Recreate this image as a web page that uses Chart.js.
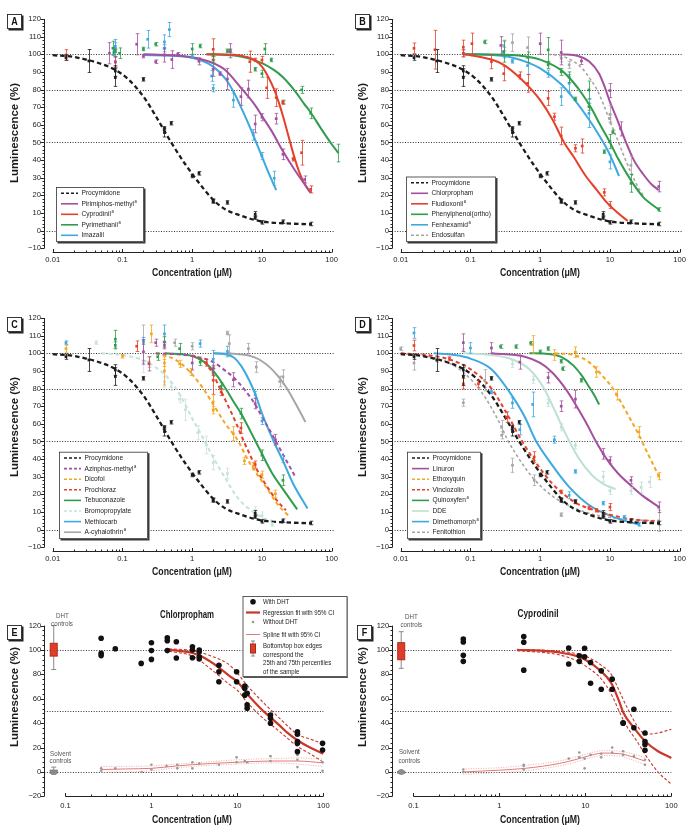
<!DOCTYPE html>
<html><head><meta charset="utf-8">
<script src="https://cdn.jsdelivr.net/npm/chart.js@4.4.0/dist/chart.umd.min.js"></script>
<style>
html,body{margin:0;padding:0;background:#fff;}
#wrap{position:relative;width:696px;height:831px;overflow:hidden;background:#fff;}
canvas{position:absolute;}
</style></head><body><div id="wrap">
<canvas id="cA" width="348" height="290" style="left:0;top:0"></canvas>
<canvas id="cB" width="348" height="290" style="left:348px;top:0"></canvas>
<canvas id="cC" width="348" height="282" style="left:0;top:299px"></canvas>
<canvas id="cD" width="348" height="282" style="left:348px;top:299px"></canvas>
<canvas id="cE" width="348" height="250" style="left:0;top:581px"></canvas>
<canvas id="cF" width="348" height="250" style="left:348px;top:581px"></canvas>
</div>
<script>
// ---------------- DATA ----------------
const xTickValsAD = [0.01, 0.1, 1, 10, 100];
const xTickValsEF = [0.1, 1, 10, 100];
const refLinesAD = [0, 50, 80, 100];
const refLinesEF = [0, 50, 100];

// Procymidone (reference compound, panels A-D): [conc, %, err]
const procPts = [[0.0155,98.1,1.5],[0.033,96.2,6.5],[0.079,90.5,3],[0.079,86.8,5],[0.2,85.8,1],[0.4,55.6,2.5],[0.4,58,1],[0.5,60.9,1],[1,31,1],[1.25,32.5,1],[2,17,1],[2,16.5,1],[3.2,16,1],[8,9.3,1.5],[8,7.4,1],[10,4.7,1],[20,5.1,1],[50,3.8,1]];
const procFit = [[0.01,99.5],[0.02,98.5],[0.03,97],[0.05,94.5],[0.08,91],[0.12,86],[0.2,76],[0.3,65],[0.5,50],[0.8,37.5],[1.2,28],[2,17.5],[3,12],[5,8.5],[8,6],[12,4.8],[20,4.2],[50,3.6]];

// Panel A
const A_pirimPts = [[0.065,100.6,6],[0.079,95.8,3],[0.16,105.7,6],[0.2,99,1],[0.3,95.8,1],[0.4,99.6,4],[0.51,97,5],[0.62,100,1],[1.25,96,2],[2,91.5,4],[2.5,89,1],[3.2,86,6],[3.5,102,4],[5,76,5],[6.4,80.3,5],[8,60.5,5],[10,64.3,2],[16,63.5,3],[20,43.3,3],[41,29,2]];
const A_pirimFit = [[0.2,100],[0.5,99.5],[1,98.3],[2,95],[3,91],[5,81],[8,71],[10,65],[14,56],[20,45],[30,34],[50,21.5]];
const A_cyproPts = [[0.0155,99.6,3],[0.079,95.5,3],[2,102.8,6],[6.7,95.8,6],[8,96.8,1],[10,96.8,2],[11.7,81,6],[16,75.4,5],[20,72.6,1],[28,40.5,1],[37,44.2,7],[50,23.4,2]];
const A_cyproFit = [[1.6,100],[4,99.7],[6,98.5],[8,96.5],[10,93],[12,88],[15,80],[18,71],[21,62],[25,51],[30,40],[36,31],[43,25],[50,21.5]];
const A_pyrimPts = [[0.073,103.4,4],[0.079,102,1],[0.091,100.6,3],[0.2,103,1],[0.3,105.7,1],[1,103,3],[1.3,104.7,1],[2,96.8,2],[2,99.6,1],[3.2,102,1],[3.5,102,1],[8,91.5,1],[10,89,2],[11,103,3],[13.6,96.8,1],[20,73,1],[37,79.8,2],[50,66.5,3],[125,44,5]];
const A_pyrimFit = [[1.6,100],[4,99.3],[6,98],[10,95],[15,91],[20,87],[30,79],[40,72],[50,67],[70,58],[100,49],[125,44]];
const A_imazPts = [[0.075,101,1],[0.079,103.4,5],[0.079,104.5,2],[0.23,108.5,5],[0.4,107,4],[0.4,103.4,2],[0.47,114,4],[1,98.7,1],[1.9,87.7,3],[2,80.7,2],[3.9,74,4],[7.5,54.3,3],[10,42.3,2],[15,29.7,4]];
const A_imazFit = [[0.2,99.6],[0.5,99.2],[1,98],[2,93],[3,86],[4,78],[5,70],[7,57],[10,42],[13,31],[16,23]];

// Panel B
const B_chlorPts = [[0.273,105,5],[1,106,6],[2,101,7],[3.9,96.2,2],[10,79.4,4],[14.2,57.7,4],[50,25,3]];
const B_chlorFit = [[2,100],[3.5,99],[5,96],[7,89],[8.5,81],[10,73],[13,62],[17,50],[22,40],[30,32],[40,26],[50,23]];
const B_fludPts = [[0.0155,103.4,3],[0.031,102.6,11],[0.079,104,4],[0.079,100.5,2],[0.105,106,6],[0.2,95.8,4],[0.3,89,4],[0.51,88,2],[0.66,83.5,5],[1.3,75,4],[1.6,64.6,2],[2,53.7,5],[3.2,46.7,2],[4,48,4],[8.3,21.7,2],[10,14.5,2]];
const B_fludFit = [[0.08,100],[0.1,99.5],[0.2,97],[0.3,94],[0.5,87],[0.75,80],[1,74],[1.5,63],[2.2,50],[3,42],[4.5,31],[6.5,23],[9,16],[13,10],[18,5.5]];
const B_phenPts = [[0.16,107,1],[0.3,101.5,6],[0.66,98.3,3],[1.3,102.5,7],[1.3,94,2],[2,90,2],[2.6,87,3],[3.2,74.7,1],[5,79.8,5],[5,70.3,2],[8.3,44.8,1],[10,50.5,4],[11,56,1],[20,26.8,5],[50,12,1]];
const B_phenFit = [[0.08,100],[0.3,99.7],[0.7,98.5],[1,97],[2,91],[3,84],[4,77.5],[5.5,69],[7,61],[10,50],[13,41],[20,28.5],[30,19],[50,12]];
const B_fenhPts = [[0.079,100.6,2],[0.3,101,3],[0.4,96,1],[0.66,93.6,5],[1.3,89,2],[2,76,5],[2.6,83.5,5],[5,66.5,8],[10,39,4]];
const B_fenhFit = [[0.08,100],[0.3,99],[0.6,96],[1,92],[2,83],[3,75],[5,63],[7,54],[10,43],[13.5,31]];
const B_endoPts = [[0.3,105,3],[0.4,106.6,5],[0.66,103.8,6],[2,97.7,2],[2.6,94,2],[10,66,5],[10,63.7,2],[20,37,5]];
const B_endoFit = [[1.3,100],[2,99],[3,96],[4,92],[5,87],[6.5,80],[8,72],[10,62],[13,51],[16,42],[20,33],[25,25],[30,20]];

// Panel C
const C_azinPts = [[0.2,100.8,7],[0.24,94,4],[0.3,106,2],[0.4,104.5,2],[1,94.5,4],[2,91.3,2],[3.9,85,4],[8,71.5,3],[15.6,51,3]];
const C_azinFit = [[0.3,100],[1,98.5],[2,95],[3,90],[4,86],[6,78],[8,71],[10,64],[14,54],[18,46],[24,37],[30,30]];
const C_dicoPts = [[0.0155,102.6,2],[0.1,98.3,1],[0.26,111,5],[0.24,95,3],[0.4,90,8],[0.4,94.5,2],[0.66,94,2],[0.95,89.4,2],[2,72.4,4],[2,67.7,2],[3.9,54.4,4],[5.6,39,2],[7.5,36,2],[10,31.2,2],[15.6,20.4,2]];
const C_dicoFit = [[0.3,100],[0.5,97.5],[0.7,94],[1,88],[1.5,79],[2,71],[3,60],[4.6,50],[6,41],[8,33],[12,23],[17,14],[24,8]];
const C_prochPts = [[0.16,104,3],[1.6,94.7,2],[2,84.7,8],[2.6,78,2],[5,57.6,3],[8,36.9,2]];
const C_prochFit = [[1,99],[1.5,95],[2,88],[2.5,80],[3.2,71],[4.2,61],[5.5,50],[7,41],[9,32],[12,24],[16,17],[22,11]];
const C_tebuPts = [[0.079,108,5],[0.079,104.5,2],[0.32,98,2],[0.4,106.4,3],[0.66,102.6,3],[1.3,95,2],[2,89.4,2],[2.6,81.3,2],[5,65.8,3],[10,42.2,3],[20,28,3]];
const C_tebuFit = [[0.4,100],[1,98.5],[1.5,95],[2,90],[2.8,82],[4,72],[5,66],[7,55],[10,43],[14,32],[20,23],[32,11.5]];
const C_bromPts = [[0.042,106,1],[0.2,95,6],[0.4,83.7,3],[0.5,81,2],[0.66,74,2],[0.8,68,6],[1.2,55,4],[1.6,48,5],[2,38,4],[3.2,31.8,3],[8,11,2],[10,8,2],[14,3,1]];
const C_bromFit = [[0.05,100],[0.1,99],[0.2,96],[0.3,92],[0.45,86],[0.7,75],[1,63],[1.3,55],[2,41],[3,29],[4.3,19],[6,13],[10,7],[14,5]];
const C_methPts = [[0.0155,106,1],[0.2,107,2],[0.4,111,5],[1.3,105.5,2],[2,96.6,5],[3.2,101,3],[8,76.5,2],[10,61.6,2],[20,40,2]];
const C_methFit = [[2,100],[3,99.5],[4,97.5],[5,93],[6.5,85],[8,77],[10,66],[13,55],[16,47],[20,39],[28,26],[45,12]];
const C_cyhaPts = [[0.2,106,10],[0.56,106,2],[1,104,2],[3.2,111.5,1],[3.4,105.5,5],[6.4,102.6,3],[8.3,92.2,3],[18,84,3],[20,86.6,4]];
const C_cyhaFit = [[2,100],[4,99.7],[6,99],[8,97.5],[10,95.5],[13,92],[17,87],[22,81],[28,74],[35,67],[42,61]];

// Panel D
const D_linuPts = [[0.079,106,5],[0.2,103,3],[0.51,95,4],[1.3,86.2,3],[2,70,3],[3.2,74,5],[8,43,3],[10,39.3,2],[20,28,2],[50,12.7,3]];
const D_linuFit = [[0.2,100],[0.6,98],[1,94.5],[1.5,89],[2.3,80],[3,73],[4.5,61],[6.3,50],[9,40],[13,32],[20,25],[30,19],[50,13]];
const D_ethoPts = [[0.78,105,5],[1.6,99,3],[3.2,100.6,3],[6.4,89.4,3],[12.5,76.5,3],[26,55.4,3],[50,30.3,2]];
const D_ethoFit = [[1.6,100],[3,99],[5,95],[7.5,88],[11,80],[16,69],[20,62],[25,55],[35,43],[50,30.5]];
const D_vincPts = [[0.0155,104.4,3],[0.05,97,1],[0.079,82.7,3],[0.13,82.7,2],[0.33,63.8,3],[0.82,41.2,3],[2,21.4,1],[3.2,15.7,1],[5,12.3,1],[6.4,11,1],[10,12.8,2]];
const D_vincFit = [[0.01,100],[0.03,98.5],[0.05,96.5],[0.1,91],[0.2,80],[0.33,66],[0.5,53],[0.8,40],[1.5,26],[3,16],[6,11],[10,8.5],[20,6],[50,4.5]];
const D_quinPts = [[0.27,103.8,1],[0.45,103.8,1],[0.73,105.7,1],[1,100.8,1],[1.3,102.7,1],[2,95.5,1],[2.1,91.3,1],[3.9,84.7,1]];
const D_quinFit = [[0.7,100],[1.2,99.8],[2,98],[3,93],[4,87],[5,81],[6,76],[7,71]];
const D_ddePts = [[0.079,101.7,1],[0.4,94,2],[0.8,85,2],[1.3,71.8,2],[2,58,2],[3.2,47.8,2],[8,30,3],[10,22,2],[20,22,2],[28,24,3],[37,27,3]];
const D_ddeFit = [[0.08,100],[0.2,99],[0.4,96.5],[0.7,91],[1.1,81],[1.6,68],[2.4,53],[3.5,41],[5.5,31],[8,26],[12,23]];
const D_dimePts = [[0.0155,111.5,3],[0.1,103,3],[0.2,78,1],[0.4,71.8,3],[0.51,56.7,3],[0.78,71,7],[1.6,51,2],[2.6,19.5,2],[3.2,33,1],[8,15,1],[16,7,1],[26,3,1]];
const D_dimeFit = [[0.03,100],[0.06,99],[0.1,97],[0.2,91],[0.35,79],[0.6,64],[0.85,51],[1.4,38],[2.5,25],[5,14],[10,8],[20,4],[26,3]];
const D_feniPts = [[0.01,102.6,1],[0.0155,94.5,4],[0.033,96,1],[0.079,72,2],[0.16,84.7,6],[0.28,58,4],[0.28,53.5,2],[0.4,36.5,4],[0.82,28,3],[2,8.5,1],[50,5,6]];
const D_feniFit = [[0.01,100],[0.04,96],[0.08,89],[0.15,77],[0.25,62],[0.35,50],[0.5,40],[0.8,29],[1.5,19],[3,12.5],[6,8.5],[15,6],[50,5]];

// Panel E (Chlorpropham)
const E_withDHT = [[0.26,109.6],[0.26,97.3],[0.26,95.4],[0.38,101],[0.76,89],[1,106],[1,99.5],[1,92.3],[1.53,110],[1.53,107.6],[1.53,99.5],[1.95,106.8],[1.95,93.4],[3,102.7],[3,100],[3,93.7],[3.6,100],[3.6,98.6],[3.6,94.5],[3.6,92.6],[6.1,87.4],[6.1,82.2],[6.1,74],[9.8,82.2],[9.8,74],[12.2,70.5],[12.2,68.6],[12.2,63],[13,64.5],[13,55],[13,52.2],[24.3,46.7],[24.3,44],[24.3,40],[50,33],[50,31],[50,25],[50,23.5],[50,16.7],[98,23.5],[98,18]];
const E_withoutDHT = [[0.26,3],[0.26,1],[0.38,3],[0.77,0],[1,6],[1,2],[1.5,5],[2,6],[2,3],[3,8],[3,3],[3.6,7],[6.1,6],[9.8,12],[9.8,8],[12.2,9],[13,8],[24.3,13],[24.3,9],[50,14],[50,10],[50,4],[98,8],[98,1]];
const E_regFit = [[1.6,100],[2,99.5],[3,97.5],[4,94],[6,86],[8,79],[10,74],[13,64],[16,57],[20,50],[24,45],[30,39],[40,31],[50,26],[70,20],[100,15]];
const E_regUp = [[1.6,101],[3,99.5],[5,95],[8,88],[10,81],[13,71],[20,57],[30,45],[50,31],[70,27],[100,23]];
const E_regLo = [[1.6,99],[3,95],[5,84],[8,72],[10,67],[13,57],[20,44],[30,34],[50,21],[70,15],[100,8]];
const E_spline = [[0.26,2],[0.5,2.5],[1,3],[2,5],[3,6],[5,7],[10,8],[25,9],[50,9],[100,7.5]];
const E_splineUp = [[0.26,4.5],[1,5],[2,6.5],[5,8.5],[10,10],[25,11],[50,11.5],[100,10.5]];
const E_splineLo = [[0.26,-0.5],[1,1],[2,3.5],[5,5.5],[10,6.5],[25,7.5],[50,6.5],[100,4.5]];
// box plots: [x, min, q1, median, q3, max]
const E_dhtBox = [0.073, 84, 95, 100, 105.5, 120];
const E_solventBox = [0.073, -2, -1, 0, 1.5, 4];

// Panel F (Cyprodinil)
const F_withDHT = [[0.38,109],[0.38,106.5],[0.38,95.6],[0.38,90.7],[1.92,111],[1.92,106.3],[1.92,83.5],[6.4,101.6],[6.4,88.5],[8.5,95.3],[8.5,90.7],[9.8,101.4],[9.8,94.5],[11.5,89.8],[11.5,72.8],[15.3,82.9],[15.3,67.8],[20.5,76.1],[20.5,67.8],[27.5,40.4],[27.5,39.9],[36.7,51.4],[36.7,36.3],[49.4,32],[49.4,25],[49.4,22.5],[49.4,17.8]];
const F_withoutDHT = [[0.38,0],[0.38,2],[1.92,2],[1.92,5],[1.92,6],[6.4,11],[8.5,16],[8.5,12],[9.8,11],[9.8,3],[11.5,14],[15.3,12],[15.3,15],[20.5,20],[20.5,16],[27.5,17],[27.5,14],[36.7,13],[49.4,10],[49.4,6]];
const F_regFit = [[1.6,100],[3,99.5],[5,98],[8,95],[10,92],[15,83],[20,73],[25,57],[27.5,49],[37,36],[50,25],[70,17],[100,11.5]];
const F_regUp = [[1.6,100.5],[5,99],[8,97],[10,95],[15,88],[20,80],[25,66],[30,54],[40,38],[50,31],[70,32],[100,35]];
const F_regLo = [[1.6,99.5],[5,96],[8,91],[10,87],[15,77],[20,64],[25,49],[30,38],[40,25],[50,14],[70,0],[100,-10]];
const F_spline = [[0.38,0],[1,1.5],[2,3],[5,7],[8,10.5],[12,14],[16,15.5],[25,15],[35,12.5],[49,9]];
const F_splineUp = [[0.38,2.5],[1,3.5],[2,5.5],[5,9],[8,12.5],[12,16],[16,17.5],[25,17],[35,15],[49,12]];
const F_splineLo = [[0.38,-2],[1,-0.5],[2,1],[5,5],[8,8.5],[12,12],[16,13.5],[25,13],[35,10],[49,6]];
const F_dhtBox = [0.072, 85, 92, 100, 106, 115];
const F_solventBox = [0.072, -1, -0.6, 0, 0.6, 1];

// ---------------- HELPERS ----------------
const FONT = "'Liberation Sans','Arial',sans-serif";
const COL = {black:'#1c1c1c', purple:'#a4509e', red:'#e6402b', green:'#2f9d4b', blue:'#3ea8e0', gray:'#a6a6a6', orange:'#f4a622', pale:'#bfe0d3', paleB:'#c5e3db'};
Chart.defaults.font.family = FONT;
Chart.defaults.color = '#222';

function ptsDS(pts, color){
  return {data: pts.map(p=>({x:p[0],y:p[1]})), errs: pts.map(p=>p[2]||0), showLine:false,
    pointStyle:'rect', pointRadius:1.9, pointBackgroundColor:color, pointBorderColor:color, pointBorderWidth:0,
    borderColor:color, backgroundColor:color, clip:false, order:0};
}
function fitDS(label, fit, color, dash, width){
  return {label, legend:true, data: fit.map(p=>({x:p[0],y:p[1]})), showLine:true, pointRadius:0,
    borderColor:color, backgroundColor:color, borderDash:dash||[], borderWidth:width||2, fill:false,
    cubicInterpolationMode:'monotone', clip:false, order:1};
}
function seriesDS(s){ return [fitDS(s.label, s.fit, s.color, s.dash, s.width), ptsDS(s.pts, s.pcolor||s.color)]; }

function condText(ctx, txt, x, y, font, sx, align, w){
  ctx.save(); ctx.font=font; ctx.textBaseline='middle'; ctx.textAlign='left';
  const nat=ctx.measureText(txt).width; if(w) sx=w/nat;
  const ww=nat*sx; let x0=x; if(align==='center') x0=x-ww/2; if(align==='right') x0=x-ww;
  ctx.translate(x0,y); ctx.scale(sx,1); ctx.fillText(txt,0,0); ctx.restore(); return ww;
}
function drawLabelSup(ctx, txt, x, y, size, sx){
  const parts = txt.split('^');
  const w = condText(ctx, parts[0], x, y, size+'px '+FONT, sx);
  if(parts[1]) condText(ctx, parts[1], x+w+0.6, y-2.4, (size*0.62)+'px '+FONT, sx);
}

function makeDecor(cfg){
  return {
    id:'decor',
    beforeDatasetsDraw(chart){
      const ctx=chart.ctx, a=chart.chartArea, xs=chart.scales.x, ys=chart.scales.y;
      ctx.save();
      ctx.strokeStyle='#333'; ctx.lineWidth=1; ctx.setLineDash([1,1.6]);
      cfg.refLines.forEach(v=>{ const p=Math.round(ys.getPixelForValue(v))+0.5; ctx.beginPath(); ctx.moveTo(a.left,p); ctx.lineTo(a.right,p); ctx.stroke(); });
      ctx.setLineDash([]);
      ctx.strokeStyle='#222'; ctx.lineWidth=1;
      const yx=Math.round(a.left)+0.5;
      ctx.beginPath(); ctx.moveTo(yx, ys.getPixelForValue(cfg.ymax)); ctx.lineTo(yx, ys.getPixelForValue(cfg.ymin)); ctx.stroke();
      for(let v=cfg.ymin; v<=cfg.ymax+1e-9; v+=cfg.yminor){
        const p=Math.round(ys.getPixelForValue(v))+0.5; const major=Math.abs(v%cfg.ystep)<1e-6;
        ctx.beginPath(); ctx.moveTo(yx-(major?4:2),p); ctx.lineTo(yx,p); ctx.stroke();
      }
      const xy=Math.round(a.bottom+cfg.xGap)+0.5;
      ctx.beginPath(); ctx.moveTo(xs.getPixelForValue(cfg.xAxis[0]),xy); ctx.lineTo(xs.getPixelForValue(cfg.xAxis[1]),xy); ctx.stroke();
      for(let d=cfg.xAxis[0]; d<=cfg.xAxis[1]*1.0001; d*=10){
        for(let k=1;k<=9;k++){ const v=d*k; if(v>cfg.xAxis[1]*1.0001) break;
          const p=Math.round(xs.getPixelForValue(v))+0.5;
          ctx.beginPath(); ctx.moveTo(p,xy); ctx.lineTo(p,xy-(k===1?3.5:2)); ctx.stroke(); }
      }
      ctx.restore();
    },
    beforeDatasetDraw(chart,args){
      const ds=chart.data.datasets[args.index]; if(!ds.errs) return;
      const ctx=chart.ctx, ys=chart.scales.y; ctx.save();
      ctx.strokeStyle=ds.borderColor; ctx.lineWidth=0.8; ctx.setLineDash([]);
      args.meta.data.forEach((el,i)=>{ const e=ds.errs[i]; if(!e) return;
        const x=Math.round(el.x)+0.5, y1=ys.getPixelForValue(ds.data[i].y+e), y2=ys.getPixelForValue(ds.data[i].y-e);
        ctx.beginPath(); ctx.moveTo(x,y1); ctx.lineTo(x,y2);
        ctx.moveTo(x-1.8,y1); ctx.lineTo(x+1.8,y1); ctx.moveTo(x-1.8,y2); ctx.lineTo(x+1.8,y2); ctx.stroke(); });
      ctx.restore();
    },
    afterDatasetsDraw(chart){
      const ctx=chart.ctx, xs=chart.scales.x, ys=chart.scales.y; ctx.save();
      (cfg.boxes||[]).forEach(b=>{ const [x,mn,q1,md,q3,mx]=b.v; const px=xs.getPixelForValue(x);
        ctx.strokeStyle='#8a8a8a'; ctx.lineWidth=1;
        ctx.beginPath(); ctx.moveTo(px,ys.getPixelForValue(mx)); ctx.lineTo(px,ys.getPixelForValue(mn));
        ctx.moveTo(px-2.5,ys.getPixelForValue(mx)); ctx.lineTo(px+2.5,ys.getPixelForValue(mx));
        ctx.moveTo(px-2.5,ys.getPixelForValue(mn)); ctx.lineTo(px+2.5,ys.getPixelForValue(mn)); ctx.stroke();
        const t=ys.getPixelForValue(q3), bt=ys.getPixelForValue(q1);
        ctx.fillStyle=b.fill; ctx.fillRect(px-3.5,t,7,Math.max(bt-t,2));
        ctx.strokeStyle=b.edge; ctx.strokeRect(px-3.5,t,7,Math.max(bt-t,2));
        if(b.dot){ctx.fillStyle=b.fill; ctx.beginPath(); ctx.arc(px,ys.getPixelForValue(md),3,0,7); ctx.fill();}
      });
      if(cfg.legend){ const L=cfg.legend; const items=chart.data.datasets.filter(d=>d.legend);
        const h=items.length*L.rowH+2.5;
        ctx.fillStyle='#3a3a3a'; ctx.fillRect(L.x+1.5,L.y+1.5,L.w,h);
        ctx.fillStyle='#fff'; ctx.fillRect(L.x,L.y,L.w,h);
        ctx.strokeStyle='#333'; ctx.lineWidth=0.8; ctx.strokeRect(L.x+0.5,L.y+0.5,L.w-1,h-1);
        items.forEach((d,i)=>{ const cy=L.y+6.3+i*L.rowH;
          ctx.strokeStyle=d.borderColor; ctx.lineWidth=Math.min(d.borderWidth,1.6); ctx.setLineDash(d.borderDash.length?[3,2]:[]);
          ctx.beginPath(); ctx.moveTo(L.x+5,cy); ctx.lineTo(L.x+22,cy); ctx.stroke(); ctx.setLineDash([]);
          ctx.fillStyle='#222'; drawLabelSup(ctx,d.label,L.x+25.5,cy,7.6,0.87); });
      }
      if(cfg.legendE){ const L=cfg.legendE;
        ctx.fillStyle='#555'; ctx.fillRect(L.x+1,L.y+1,L.w,L.h);
        ctx.fillStyle='#fff'; ctx.fillRect(L.x,L.y,L.w,L.h);
        ctx.strokeStyle='#333'; ctx.lineWidth=0.8; ctx.strokeRect(L.x+0.5,L.y+0.5,L.w-1,L.h-1);
        const ix=L.x+10.5, tx=L.x+20.5;
        L.rows.forEach(r=>{
          const d=chart.data.datasets[r.ds];
          if(r.icon==='dot'){ctx.fillStyle='#111';ctx.beginPath();ctx.arc(ix,r.y,2.8,0,7);ctx.fill();}
          if(r.icon==='sdot'){ctx.fillStyle='#999';ctx.beginPath();ctx.arc(ix,r.y,1.3,0,7);ctx.fill();}
          if(r.icon==='line'){ctx.strokeStyle=d.borderColor;ctx.lineWidth=d.borderWidth;ctx.beginPath();ctx.moveTo(ix-7,r.y);ctx.lineTo(ix+7,r.y);ctx.stroke();}
          if(r.icon==='box'){ctx.strokeStyle='#888';ctx.lineWidth=1;ctx.beginPath();ctx.moveTo(ix,r.y-5);ctx.lineTo(ix,r.y+10);ctx.moveTo(ix-2,r.y-5);ctx.lineTo(ix+2,r.y-5);ctx.moveTo(ix-2,r.y+10);ctx.lineTo(ix+2,r.y+10);ctx.stroke();
            ctx.fillStyle='#e03c2a';ctx.fillRect(ix-2.5,r.y-2,5,9);ctx.strokeStyle='#a52a1c';ctx.strokeRect(ix-2.5,r.y-2,5,9);}
          ctx.fillStyle='#222';
          (d?d.label:r.text).split('\n').forEach((t,j)=>{ condText(ctx,t,tx,r.y+j*8.6,'7.6px '+FONT,0.8); });
        });
      }
      const P=cfg.letter;
      ctx.fillStyle='#222'; ctx.fillRect(P.x+1.5,P.y+1.5,15,15);
      ctx.fillStyle='#fff'; ctx.fillRect(P.x,P.y,15,15);
      ctx.strokeStyle='#222'; ctx.lineWidth=0.9; ctx.strokeRect(P.x+0.5,P.y+0.5,14,14);
      ctx.fillStyle='#111'; condText(ctx,P.t,P.x+7.5,P.y+8,'bold 10px '+FONT,0.9,'center');
      ctx.fillStyle='#1a1a1a';
      condText(ctx,'Concentration (μM)',cfg.xTitle[0],cfg.xTitle[1],'bold 10.5px '+FONT,1,'center',80);
      ctx.save(); ctx.translate(cfg.yTitle[0],cfg.yTitle[1]); ctx.rotate(-Math.PI/2);
      condText(ctx,'Luminescence (%)',0,0,'bold 10.5px '+FONT,1,'center',cfg.yTitleW||96); ctx.restore();
      if(cfg.title){ condText(ctx,cfg.title[0],cfg.title[1],cfg.title[2],'bold 10.5px '+FONT,1,'center',cfg.title[3]); }
      ctx.fillStyle='#555';
      (cfg.notes||[]).forEach(n=>{ condText(ctx,n[0],n[1],n[2],'7.6px '+FONT,0.82,'center'); });
      ctx.restore();
    }
  };
}

function makeChart(id, cfg, datasets){
  const cv=document.getElementById(id); const W=cv.width, H=cv.height, A=cfg.area;
  return new Chart(cv, {
    type:'line',
    data:{datasets},
    options:{
      responsive:false, animation:false, events:[], devicePixelRatio:1,
      layout:{padding:{left:0, top:A.top, right:W-A.right, bottom:H-A.bottom-20}},
      plugins:{legend:{display:false}, tooltip:{enabled:false}},
      scales:{
        x:{type:'logarithmic', min:cfg.xmin, max:cfg.xmax,
          afterFit(s){s.height=20;},
          afterBuildTicks(s){ s.ticks = cfg.xTicks.map(v=>({value:v, major:true})); },
          grid:{display:false, drawTicks:false}, border:{display:false},
          ticks:{autoSkip:false, maxRotation:0, minRotation:0, padding:cfg.xPad, font:{size:7.6, family:FONT}, color:'#222',
            callback:(v)=>String(v)}},
        y:{type:'linear', min:cfg.ymin, max:cfg.ymax,
          afterFit(s){s.width=A.left;},
          grid:{display:false, drawTicks:false}, border:{display:false},
          ticks:{stepSize:cfg.ystep, padding:3, font:{size:7.6, family:FONT}, color:'#222',
            callback:(v)=> v<0 ? '\u2212'+Math.abs(v) : String(v)}}
      }
    },
    plugins:[makeDecor(cfg)]
  });
}

const baseAD = {area:{left:44,right:334,top:19,bottom:248.3}, xmin:0.0075, xmax:107.9, xTicks:xTickValsAD, xPad:7.5,
  ymin:-10, ymax:120, ystep:10, yminor:2, xGap:3.4, xAxis:[0.01,100], refLines:refLinesAD, xTitle:[192,273], yTitle:[15,133], yTitleW:100};
const proc = {label:'Procymidone', pts:procPts, fit:procFit, color:COL.black, dash:[4.5,3], width:2.3};

makeChart('cA', Object.assign({}, baseAD, {letter:{x:7,y:14,t:'A'}, legend:{x:56,y:187,w:88,rowH:10.5}}),
  [proc,
   {label:'Pirimiphos-methyl^a', pts:A_pirimPts, fit:A_pirimFit, color:COL.purple},
   {label:'Cyprodinil^a', pts:A_cyproPts, fit:A_cyproFit, color:COL.red},
   {label:'Pyrimethanil^a', pts:A_pyrimPts, fit:A_pyrimFit, color:COL.green},
   {label:'Imazalil', pts:A_imazPts, fit:A_imazFit, color:COL.blue}].flatMap(seriesDS));
makeChart('cB', Object.assign({}, baseAD, {letter:{x:7,y:14,t:'B'}, legend:{x:58,y:176.5,w:90,rowH:10.5}}),
  [proc,
   {label:'Chlorpropham', pts:B_chlorPts, fit:B_chlorFit, color:COL.purple},
   {label:'Fludioxonil^a', pts:B_fludPts, fit:B_fludFit, color:COL.red},
   {label:'Phenylphenol(ortho)', pts:B_phenPts, fit:B_phenFit, color:COL.green},
   {label:'Fenhexamid^a', pts:B_fenhPts, fit:B_fenhFit, color:COL.blue},
   {label:'Endosulfan', pts:B_endoPts, fit:B_endoFit, color:COL.gray, dash:[3,2.5], width:1.6}].flatMap(seriesDS));
makeChart('cC', Object.assign({}, baseAD, {letter:{x:7,y:18,t:'C'}, legend:{x:59,y:152.7,w:89,rowH:10.6}, yTitle:[15,128]}),
  [proc,
   {label:'Azinphos-methyl^a', pts:C_azinPts, fit:C_azinFit, color:COL.purple, dash:[4,3]},
   {label:'Dicofol', pts:C_dicoPts, fit:C_dicoFit, color:COL.orange, dash:[4,3]},
   {label:'Prochloraz', pts:C_prochPts, fit:C_prochFit, color:COL.red, dash:[4,3]},
   {label:'Tebuconazole', pts:C_tebuPts, fit:C_tebuFit, color:COL.green},
   {label:'Bromopropylate', pts:C_bromPts, fit:C_bromFit, color:COL.paleB, dash:[4,3]},
   {label:'Methiocarb', pts:C_methPts, fit:C_methFit, color:COL.blue},
   {label:'A-cyhalothrin^a', pts:C_cyhaPts, fit:C_cyhaFit, color:COL.gray}].flatMap(seriesDS));
makeChart('cD', Object.assign({}, baseAD, {letter:{x:7,y:18,t:'D'}, legend:{x:59,y:152.7,w:74,rowH:10.6}, yTitle:[15,128]}),
  [proc,
   {label:'Linuron', pts:D_linuPts, fit:D_linuFit, color:COL.purple},
   {label:'Ethoxyquin', pts:D_ethoPts, fit:D_ethoFit, color:COL.orange, dash:[4,3]},
   {label:'Vinclozolin', pts:D_vincPts, fit:D_vincFit, color:COL.red, dash:[4,3]},
   {label:'Quinoxyfen^a', pts:D_quinPts, fit:D_quinFit, color:COL.green},
   {label:'DDE', pts:D_ddePts, fit:D_ddeFit, color:COL.pale},
   {label:'Dimethomorph^a', pts:D_dimePts, fit:D_dimeFit, color:COL.blue},
   {label:'Fenitothion', pts:D_feniPts, fit:D_feniFit, color:COL.gray, dash:[3,2.5], width:1.6}].flatMap(seriesDS));

function efDatasets(withD, withoutD, reg, regUp, regLo, spl, splUp, splLo){
  const line=(d,c,w,dash,extra)=>Object.assign({data:d.map(p=>({x:p[0],y:p[1]})), showLine:true, pointRadius:0, borderColor:c, borderWidth:w, borderDash:dash, fill:false, cubicInterpolationMode:'monotone', clip:false, order:2}, extra||{});
  const pts=(d,c,r,extra)=>Object.assign({data:d.map(p=>({x:p[0],y:p[1]})), showLine:false, pointStyle:'circle', pointRadius:r, pointBackgroundColor:c, pointBorderColor:c, pointBorderWidth:0, borderColor:c, clip:false, order:0}, extra||{});
  return [
    pts(withD,'#111',2.8,{label:'With DHT'}),
    line(reg,'#c8372a',2.2,[],{label:'Regression fit with 95% CI', order:1}),
    pts(withoutD,'#999',1.3,{label:'Without DHT', order:1}),
    line(spl,'#e07a78',1,[],{label:'Spline fit with 95% CI'}),
    line(regUp,'#c8372a',1.1,[3,2]), line(regLo,'#c8372a',1.1,[3,2]),
    line(splUp,'#e59a98',0.8,[1,1.5]), line(splLo,'#e59a98',0.8,[1,1.5])
  ];
}
const baseEF = {area:{left:44.3,right:323.3,top:44.6,bottom:215.4}, xmin:0.0567, xmax:100, xTicks:xTickValsEF, xPad:5,
  ymin:-20, ymax:120, ystep:20, yminor:4, xGap:0, xAxis:[0.1,100], refLines:refLinesEF, xTitle:[192,239], yTitle:[15,116], yTitleW:100};
makeChart('cE', Object.assign({}, baseEF, {letter:{x:7,y:44,t:'E'}, title:['Chlorpropham',187,34,54],
  boxes:[{v:E_dhtBox, fill:'#e03c2a', edge:'#b02a1c'},{v:E_solventBox, fill:'#8c8c8c', edge:'#777'}],
  notes:[['DHT',62.5,35],['controls',62,42.5],['Solvent',60.5,172.5],['controls',60.5,180]],
  legendE:{x:242.5,y:15,w:105,h:81, rows:[{ds:0,icon:'dot',y:20.7},{ds:1,icon:'line',y:31.5},{ds:2,icon:'sdot',y:41},{ds:3,icon:'line',y:53.5},{icon:'box',y:65,text:'Bottom/top box edges\ncorrespond the\n25th and 75th percentiles\nof the sample'}]}}),
  efDatasets(E_withDHT,E_withoutDHT,E_regFit,E_regUp,E_regLo,E_spline,E_splineUp,E_splineLo));
makeChart('cF', Object.assign({}, baseEF, {letter:{x:9,y:44,t:'F'}, title:['Cyprodinil',190,33,41],
  boxes:[{v:F_dhtBox, fill:'#e03c2a', edge:'#b02a1c'},{v:F_solventBox, fill:'#8c8c8c', edge:'#777', dot:true}],
  notes:[['DHT',63.3,35.7],['controls',63.3,44.2],['Solvent',61.3,171.3],['controls',61.3,179.5]]}),
  efDatasets(F_withDHT,F_withoutDHT,F_regFit,F_regUp,F_regLo,F_spline,F_splineUp,F_splineLo));
</script>
</body></html>
